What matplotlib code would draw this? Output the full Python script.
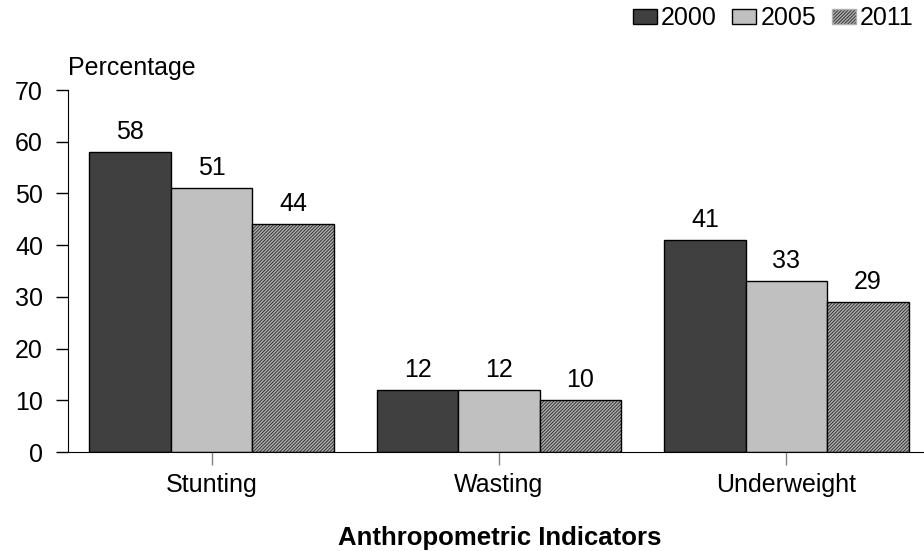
import matplotlib.pyplot as plt
import numpy as np
from matplotlib.patches import Patch

plt.rcParams['font.family'] = ['Liberation Sans', 'DejaVu Sans']
plt.rcParams['hatch.linewidth'] = 1.0

categories = ['Stunting', 'Wasting', 'Underweight']
years = ['2000', '2005', '2011']
values_2000 = [58, 12, 41]
values_2005 = [51, 12, 33]
values_2011 = [44, 10, 29]

FS = 18

fig = plt.figure(figsize=(9.24, 5.51), dpi=100)
ax = fig.add_axes([68 / 924, 99 / 551, 862 / 924, 362 / 551])

x = np.arange(len(categories))
w = 0.2835
hatch = '/' * 10

# plain bars
ax.bar(x - w, values_2000, w, color='#404040', edgecolor='black', linewidth=1)
ax.bar(x, values_2005, w, color='#c0c0c0', edgecolor='black', linewidth=1)

# hatched bars: fill + hatch, then outline on top
ax.bar(x + w, values_2011, w, color='#333333', edgecolor='#b0b0b0',
       hatch=hatch, linewidth=0)
ax.bar(x + w, values_2011, w, fill=False, edgecolor='black', linewidth=1)

for offs, vals in zip([-w, 0, w], [values_2000, values_2005, values_2011]):
    for xi, v in zip(x + offs, vals):
        ax.annotate(str(v), (xi, v), xytext=(0, 6), textcoords='offset points',
                    ha='center', va='bottom', fontsize=FS)

ax.set_xlim(-0.5, 2.5)
ax.set_ylim(0, 70)
ax.set_yticks(range(0, 71, 10))
ax.set_xticks(x)
ax.set_xticklabels(categories, fontsize=FS)
ax.tick_params(axis='y', length=9, width=1, labelsize=FS, pad=9)
ax.tick_params(axis='x', length=9, width=1, color='#808080', pad=6)
ax.spines['top'].set_visible(False)
ax.spines['right'].set_visible(False)

fig.text(68 / 924, 1 - 68 / 551, 'Percentage', fontsize=FS, va='center')
fig.text(500 / 924, 1 - 538 / 551, 'Anthropometric Indicators', fontsize=18.5,
         fontweight='bold', ha='center', va='center')

handles = [Patch(facecolor='#404040', edgecolor='black'),
           Patch(facecolor='#c0c0c0', edgecolor='black'),
           Patch(facecolor='#333333', edgecolor='#b0b0b0', hatch=hatch)]
fig.legend(handles, years, loc='upper right', bbox_to_anchor=(1.008, 1.02),
           ncol=3, frameon=False, fontsize=FS, handlelength=0.96,
           handleheight=0.56, handletextpad=0.16, columnspacing=0.64,
           borderpad=0.2)

fig.savefig('out.png', dpi=100)
